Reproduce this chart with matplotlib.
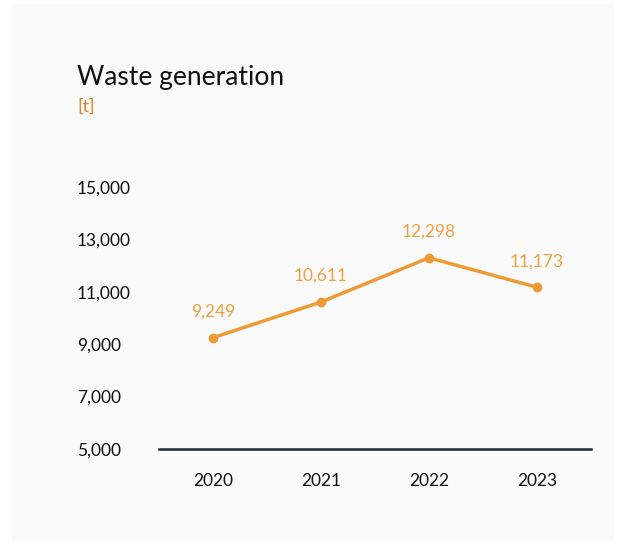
import matplotlib.pyplot as plt
from matplotlib.patches import Rectangle

# chart data
years = ["2020", "2021", "2022", "2023"]
waste = [9249, 10611, 12298, 11173]
y_ticks = [5000, 7000, 9000, 11000, 13000, 15000]

line_color = "#EF9B35"
label_color = "#EFA040"
unit_color = "#E07F22"
text_color = "#111111"

plt.rcParams['font.family'] = ['Lato', 'DejaVu Sans']

W, H = 620, 545
fig = plt.figure(figsize=(W / 100, H / 100), dpi=100)
fig.patch.set_facecolor("white")

# light card behind the chart
card = Rectangle((12 / W, 1 - 541 / H), (614 - 12) / W, (541 - 4) / H,
                 transform=fig.transFigure, facecolor="#FAFAFA",
                 edgecolor="none", zorder=-5)
fig.patches.append(card)

# axes: x 159..591 px, y 187..449 px
ax = fig.add_axes([159 / W, 1 - 449 / H, (591 - 159) / W, (449 - 187) / H])
ax.set_zorder(2)
ax.set_facecolor("none")

x = range(len(years))
ax.plot(x, waste, color=line_color, linewidth=2.5, marker="o", markersize=6,
        solid_capstyle="round", zorder=3, clip_on=False)
for xi, v in zip(x, waste):
    ax.annotate(f"{v:,}", (xi, v), xytext=(0, 13), textcoords="offset points",
                ha="center", va="bottom", color=label_color, fontsize=12.5)

ax.set_xlim(-0.5, 3.5)
ax.set_ylim(5000, 15000)
ax.set_xticks(list(x))
ax.set_xticklabels(years)
ax.set_yticks(y_ticks)
ax.set_yticklabels([f"{t:,}" for t in y_ticks])
for lab in ax.get_yticklabels():
    lab.set_horizontalalignment("left")

ax.tick_params(axis="both", length=0, labelsize=12.5, colors=text_color)
ax.tick_params(axis="y", pad=59)
ax.tick_params(axis="x", pad=17)

for s in ["top", "right", "left"]:
    ax.spines[s].set_visible(False)
ax.spines["bottom"].set_color("#1E2833")
ax.spines["bottom"].set_linewidth(1.8)

fig.text(77 / W, 1 - 78 / H, "Waste generation", fontsize=19, color=text_color,
         ha="left", va="center", zorder=3)
fig.text(77 / W, 1 - 107 / H, "[t]", fontsize=13, color=unit_color,
         ha="left", va="center", zorder=3)

fig.savefig("out.png", dpi=100, facecolor=fig.get_facecolor())
